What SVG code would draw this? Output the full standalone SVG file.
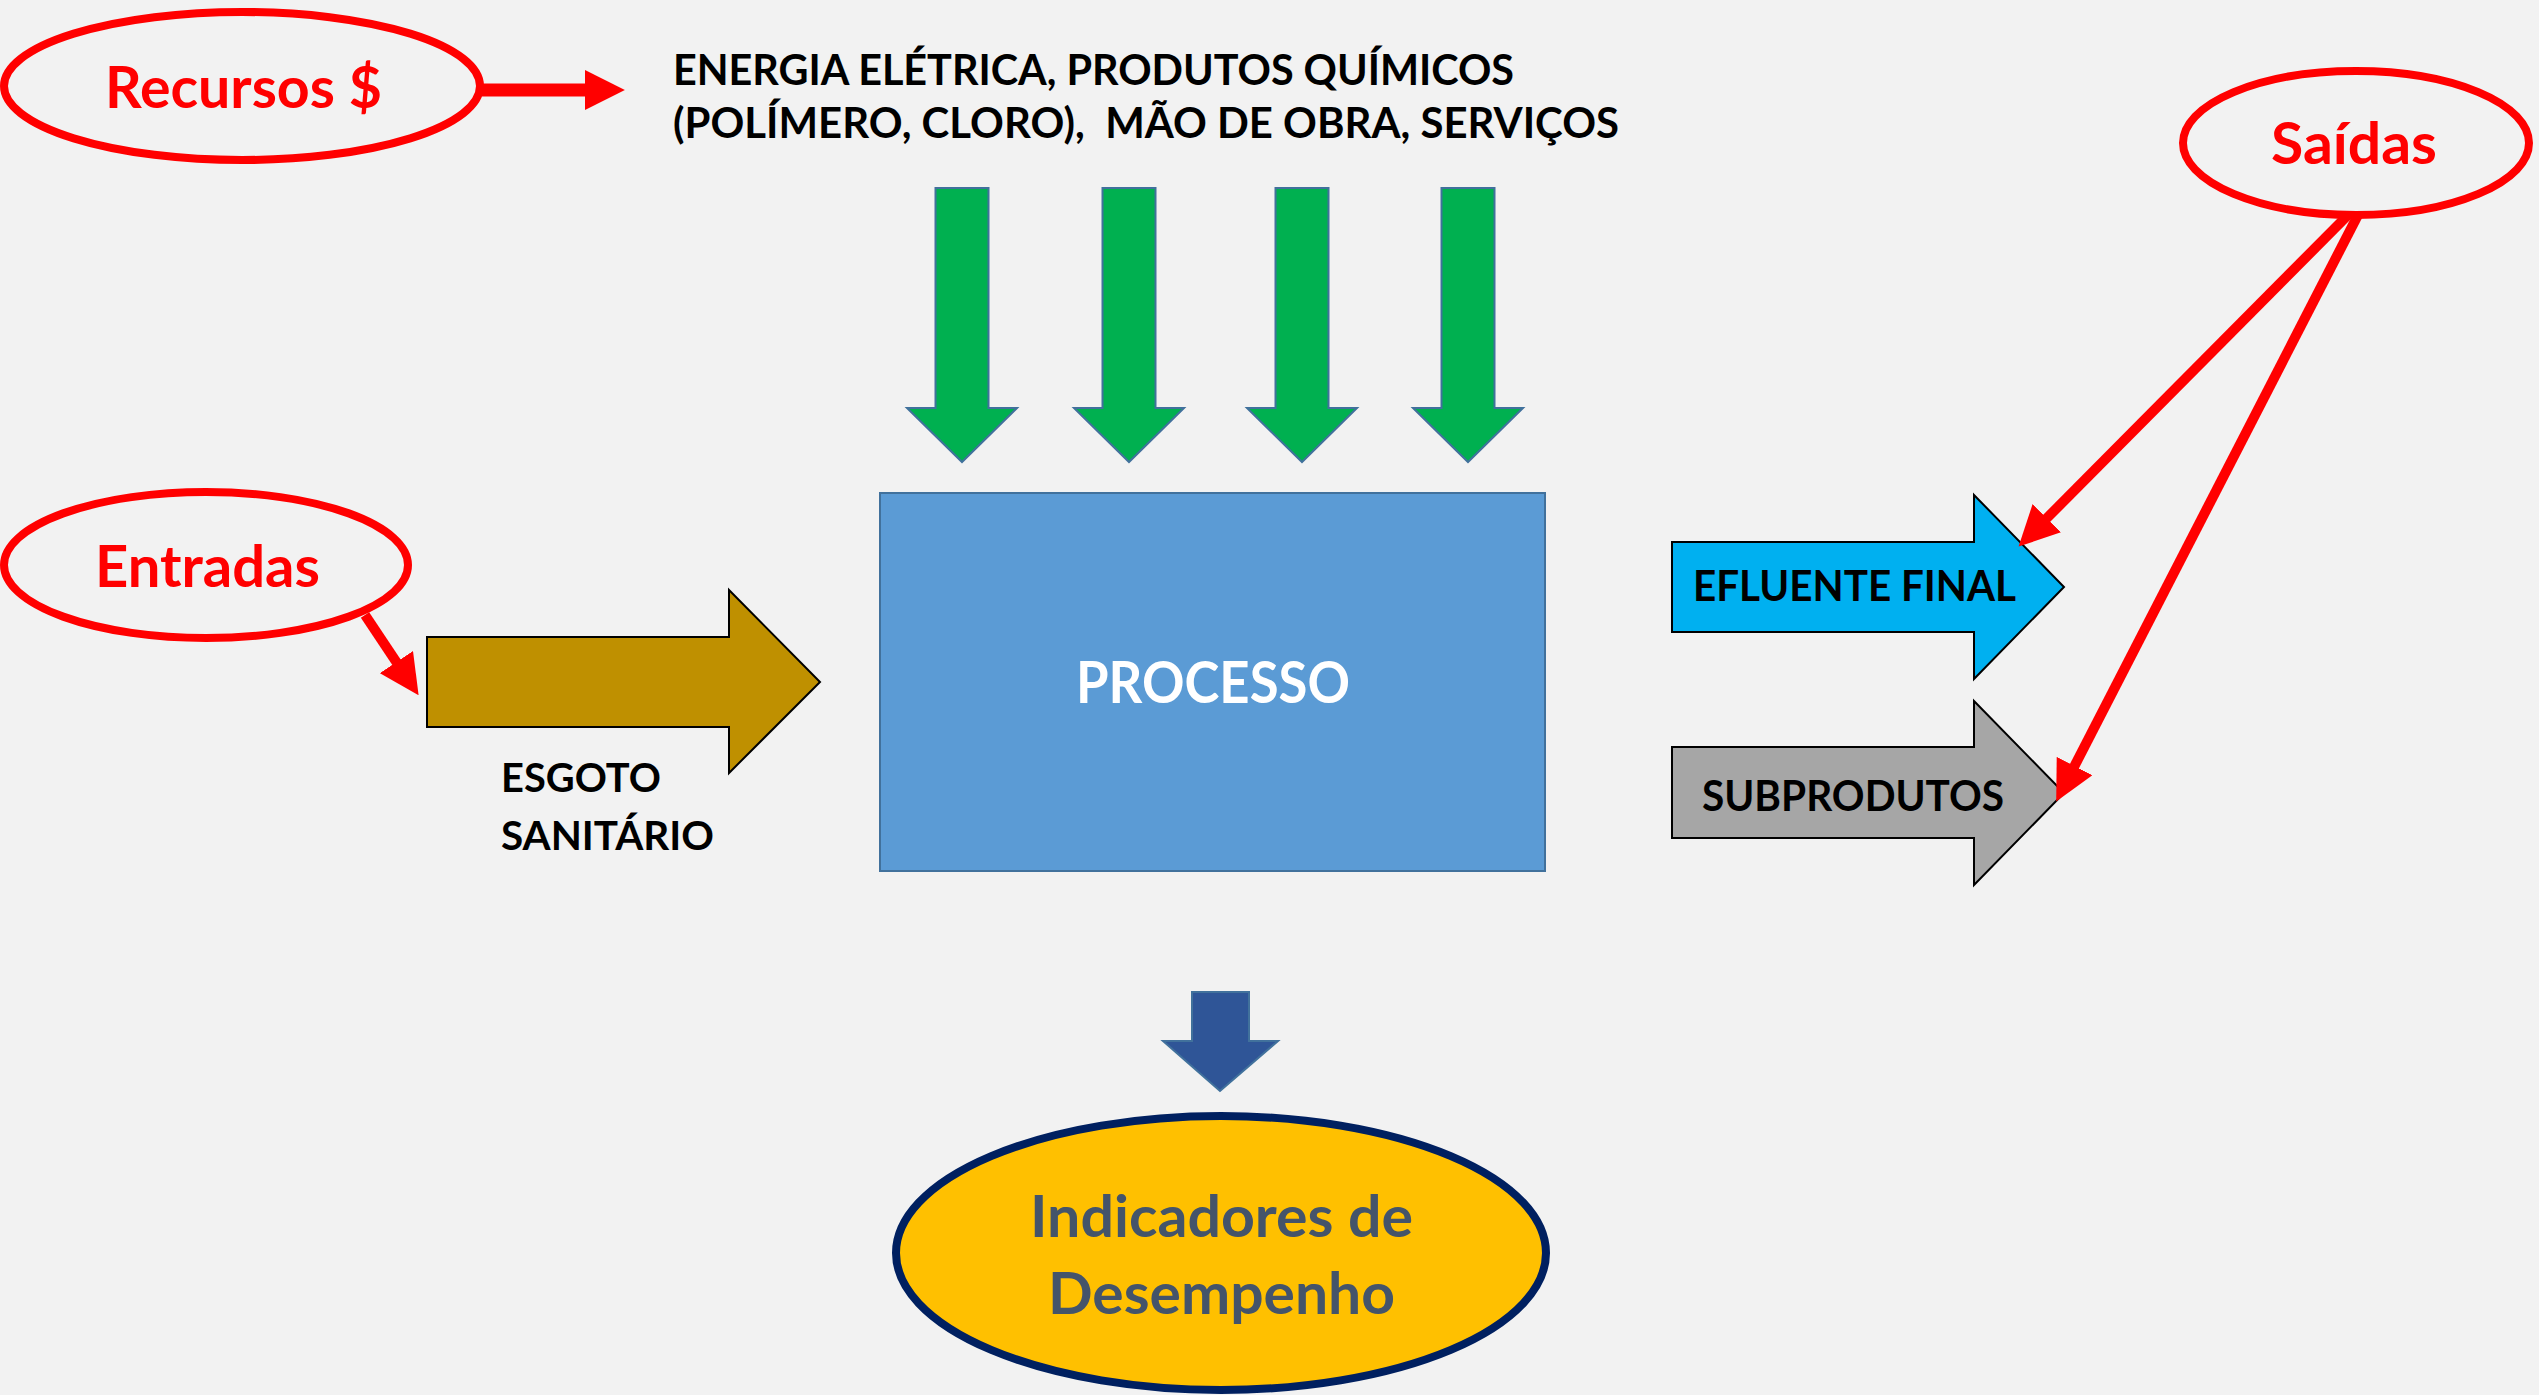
<svg xmlns="http://www.w3.org/2000/svg" width="2539" height="1395" viewBox="0 0 2539 1395">
<style>
.bg{fill:#F2F2F2}
.t{font-family:Lato,"Open Sans","Liberation Sans",sans-serif;font-weight:700}
.big{font-size:57px}
.mid{font-size:41px}
.red{fill:#FF0000}
.blk{fill:#000000}
.oval{fill:none;stroke:#FF0000;stroke-width:8}
.con{stroke:#FF0000;fill:none}
.green{fill:#00B050;stroke:#41719C;stroke-width:2}
.blockarrow{stroke:#000000;stroke-width:2}
</style>
<defs>
<marker id="head" markerUnits="userSpaceOnUse" markerWidth="40" markerHeight="40" viewBox="0 0 36 36" refX="1" refY="18" orient="auto">
<path d="M0,0 L36,18 L0,36 Z" fill="#FF0000"/>
</marker>
<path id="gdown" d="M-26.5,0 H26.5 V220 H55 L0,274 L-55,220 H-26.5 Z"/>
</defs>
<rect class="bg" x="0" y="0" width="2539" height="1395"/>

<g id="recursos">
<ellipse class="oval" cx="242" cy="86" rx="238" ry="74"/>
<text class="t big red" x="105" y="108" textLength="277" lengthAdjust="spacingAndGlyphs">Recursos $</text>
</g>

<g id="insumos-texto">
<text class="t blk" style="font-size:42px;white-space:pre" x="673" y="85" textLength="841" lengthAdjust="spacingAndGlyphs">ENERGIA ELÉTRICA, PRODUTOS QUÍMICOS</text>
<text class="t blk" style="font-size:42px;white-space:pre" x="673" y="138" textLength="946" lengthAdjust="spacingAndGlyphs">(POLÍMERO, CLORO),  MÃO DE OBRA, SERVIÇOS</text>
</g>

<g id="insumos-setas">
<use href="#gdown" class="green" transform="translate(962,188)"/>
<use href="#gdown" class="green" transform="translate(1129,188)"/>
<use href="#gdown" class="green" transform="translate(1302,188)"/>
<use href="#gdown" class="green" transform="translate(1468,188)"/>
</g>

<g id="entradas">
<ellipse class="oval" cx="206" cy="565" rx="202" ry="73"/>
<text class="t big red" x="95" y="587" textLength="225" lengthAdjust="spacingAndGlyphs">Entradas</text>
</g>

<g id="esgoto">
<path class="blockarrow" fill="#BF9000" d="M427,637 H729 V590 L820,682 L729,773 V727 H427 Z"/>
<text class="t mid blk" x="501" y="792" textLength="160" lengthAdjust="spacingAndGlyphs">ESGOTO</text>
<text class="t mid blk" x="501" y="850" textLength="213" lengthAdjust="spacingAndGlyphs">SANITÁRIO</text>
</g>

<g id="processo">
<rect x="880" y="493" width="665" height="378" fill="#5B9BD5" stroke="#41719C" stroke-width="2"/>
<text class="t big" fill="#FFFFFF" x="1076" y="703" textLength="274" lengthAdjust="spacingAndGlyphs">PROCESSO</text>
</g>

<g id="saidas">
<ellipse class="oval" cx="2356" cy="143" rx="173" ry="72"/>
<text class="t big red" x="2271" y="164" textLength="166" lengthAdjust="spacingAndGlyphs">Saídas</text>
</g>

<g id="efluente">
<path class="blockarrow" fill="#00B0F0" d="M1672,542 H1974 V495 L2064,587 L1974,679 V632 H1672 Z"/>
<text class="t blk" style="font-size:42px" x="1693" y="601" textLength="323" lengthAdjust="spacingAndGlyphs">EFLUENTE FINAL</text>
</g>

<g id="subprodutos">
<path class="blockarrow" fill="#A6A6A6" d="M1672,747 H1974 V701 L2064,793 L1974,885 V838 H1672 Z"/>
<text class="t blk" style="font-size:42px" x="1702" y="811" textLength="302" lengthAdjust="spacingAndGlyphs">SUBPRODUTOS</text>
</g>

<g id="seta-indicadores">
<path fill="#2F5597" stroke="#41719C" stroke-width="2" d="M1192,992 H1249 V1041 H1278 L1220,1091 L1163,1041 H1192 Z"/>
</g>

<g id="indicadores">
<ellipse cx="1221" cy="1253" rx="325" ry="137" fill="#FFC000" stroke="#002060" stroke-width="8"/>
<text class="t big" fill="#44546A" x="1030" y="1237" textLength="383" lengthAdjust="spacingAndGlyphs">Indicadores de</text>
<text class="t big" fill="#44546A" x="1048" y="1314" textLength="347" lengthAdjust="spacingAndGlyphs">Desempenho</text>
</g>

<g id="connectors">
<line class="con" x1="482" y1="90" x2="586" y2="90" stroke-width="13" marker-end="url(#head)"/>
<line class="con" x1="365" y1="615" x2="397" y2="663" stroke-width="10" marker-end="url(#head)"/>
<line class="con" x1="2348" y1="215" x2="2046" y2="519" stroke-width="10" marker-end="url(#head)"/>
<line class="con" x1="2358" y1="215" x2="2074" y2="767" stroke-width="10" marker-end="url(#head)"/>
</g>
</svg>
